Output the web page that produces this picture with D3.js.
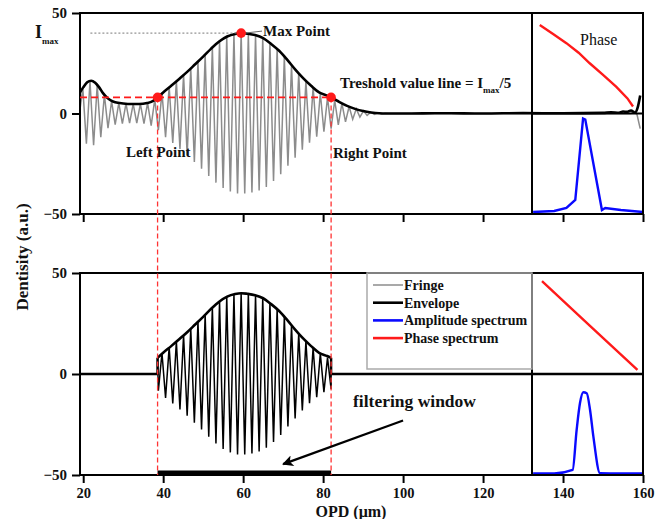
<!DOCTYPE html>
<html><head><meta charset="utf-8">
<script src="https://cdn.jsdelivr.net/npm/d3@7"></script>
<style>
body{margin:0;background:#fff}
svg{display:block}
text{font-family:"Liberation Serif","Times New Roman",serif;font-weight:bold;fill:#111}
</style>
</head><body>
<svg id="c" width="655" height="519"></svg>
<script>
// ---------------- data ----------------
const xTicks = [20, 40, 60, 80, 100, 120, 140, 160];
const yTicks = [-50, 0, 50];

// envelope of the interferogram (OPD, intensity)
const envX = [19.2, 20, 21, 22, 23, 24, 25, 26, 27, 28, 30, 32, 34, 36, 37, 38, 38.6,
  40, 42, 44, 46, 48, 50, 52, 54, 56, 58, 59.5, 61, 63, 65, 67, 69, 71, 73, 75, 77, 79,
  81, 82, 84, 86, 88, 90, 92, 94, 96, 100, 110, 120, 130, 140, 150, 152, 154, 155, 156,
  157, 158, 158.6, 159.3];
const envY = [10.5, 13, 15.5, 16.3, 15.3, 13, 10, 7.8, 6.4, 5.6, 5, 4.7, 4.7, 5.2, 5.8, 7, 8,
  10.5, 13.8, 17.2, 20.7, 24.5, 28.3, 32.3, 35.8, 38.3, 39.6, 40, 39.7, 39, 37.5, 34.6, 31.2, 26.8, 22, 17.6, 13.8, 10.5,
  8.9, 8, 5.8, 3.8, 2.3, 1.2, 0.5, 0.1, 0, 0, 0.1, 0, 0.2, 0.1, 0.3, 0.6, 0.4, 1, 0.8,
  1.5, 0.4, 2.5, 9];

// fringe turning points (OPD, intensity)
const fringeX = [19.2,
  19.9, 20.8, 21.7, 22.6, 23.5, 24.4, 25.3, 26.2, 27.1, 28.0,
  28.9, 29.8, 30.7, 31.6, 32.5, 33.4, 34.3, 35.2, 36.1, 37.0,
  37.9, 38.8, 39.7, 40.6, 41.5, 42.4, 43.3, 44.2, 45.1, 46.0,
  46.9, 47.8, 48.7, 49.6, 50.5, 51.4, 52.3, 53.2, 54.1, 55.0,
  55.9, 56.8, 57.7, 58.6, 59.5, 60.4, 61.3, 62.2, 63.1, 64.0,
  64.9, 65.8, 66.7, 67.6, 68.5, 69.4, 70.3, 71.2, 72.1, 73.0,
  73.9, 74.8, 75.7, 76.6, 77.5, 78.4, 79.3, 80.2, 81.1, 82.0,
  82.9, 83.8, 84.7, 85.6, 86.5, 87.4, 88.3, 89.2, 90.1, 91.0,
  91.9, 92.8, 93.7, 94.6, 95.5, 96.4,
  157.0, 157.8, 158.5, 159.3];
const fringeY = [2,
  12.7, -15, 16.2, -15.8, 14.2, -11.8, 9.3, -7.3, 6.1, -5.5,
  5.2, -5, 4.9, -4.8, 4.8, -4.8, 4.8, -5, 5.3, -6,
  7, -8.3, 10.4, -11.8, 13.3, -14.6, 16.1, -17.6, 19.2, -20.7,
  22.4, -24.1, 25.8, -27.5, 29.3, -31.1, 32.8, -34.4, 35.9, -37.1,
  38.1, -38.8, 39.3, -39.8, 40, -39.8, 39.6, -39.3, 38.9, -38.3,
  37.6, -36.5, 35, -33.6, 32, -30.2, 28.2, -26, 24, -22,
  20, -18, 16.2, -14.5, 13, -11.5, 10.2, -9, 8.1, -7.5,
  6.6, -5.7, 5, -4.2, 3.5, -2.9, 2.3, -1.8, 1.3, -1,
  0.7, -0.5, 0.3, -0.2, 0.1, 0,
  0, 0.8, -0.5, -7.5];

const maxPoint = [59.5, 40];
const leftPoint = [38.6, 8];
const rightPoint = [82, 8];
const thresholdValue = 8;

// inset spectra (arbitrary spectral index 0-100, normalised value 0-100)
const phaseTopX = [7, 19, 31, 42, 52, 64, 76, 86, 91];
const phaseTopY = [88, 79, 70, 60.5, 50, 38.5, 26.5, 15, 7];
const ampTopX = [1, 20, 31, 39, 46, 48, 63, 66, 80, 100];
const ampTopY = [2, 3, 6, 14, 95, 94, 4, 6, 4, 2];
const phaseBotX = [9, 52, 95];
const phaseBotY = [92, 48, 4];
const ampBotX = [1, 20, 36.6, 40.2, 43.2, 46.2, 49.3, 52.3, 55.3, 61.3, 80, 100];
const ampBotY = [1.5, 1.5, 5, 44.5, 71, 81.9, 80.9, 64.4, 38, 1.7, 1.5, 1.5];

const legendLabels = ["Fringe", "Envelope", "Amplitude spectrum", "Phase spectrum"];
const legendColors = ["#8c8c8c", "#000", "#0a0aff", "#ff1a1a"];

// ---------------- layout ----------------
const svg = d3.select("#c");
const L = 80, R = 643, IL = 532;
const topT = 13, topB = 214, botT = 273, botB = 475;

const x = d3.scaleLinear([19.2, 160], [L, R]);
const yTop = d3.scaleLinear([-50, 50], [topB, topT]);
const yBot = d3.scaleLinear([-50, 50], [botB, botT]);
const ix = d3.scaleLinear([0, 100], [IL, R]);
const iyTopU = d3.scaleLinear([0, 100], [yTop(0), topT]);
const iyTopL = d3.scaleLinear([0, 100], [topB, yTop(0)]);
const iyBotU = d3.scaleLinear([0, 100], [yBot(0), botT]);
const iyBotL = d3.scaleLinear([0, 100], [botB, yBot(0)]);

const env = d3.zip(envX, envY);
const fringe = d3.zip(fringeX, fringeY);

const defs = svg.append("defs");
defs.append("clipPath").attr("id", "clipTop").append("rect")
  .attr("x", L).attr("y", topT).attr("width", R - L).attr("height", topB - topT);
defs.append("clipPath").attr("id", "clipBot").append("rect")
  .attr("x", L).attr("y", botT).attr("width", R - L).attr("height", botB - botT);
defs.append("marker").attr("id", "arrow").attr("viewBox", "0 0 10 10")
  .attr("refX", 9).attr("refY", 5).attr("markerWidth", 6).attr("markerHeight", 5)
  .attr("markerUnits", "strokeWidth").attr("orient", "auto")
  .append("path").attr("d", "M0,0 L10,5 L0,10 L2.5,5 Z").attr("fill", "#000");

// ---------------- top panel ----------------
const gTop = svg.append("g").attr("clip-path", "url(#clipTop)");
const lineTop = d3.line().x(d => x(d[0])).y(d => yTop(d[1]));
gTop.append("path").datum(fringe).attr("d", lineTop)
  .attr("fill", "none").attr("stroke", "#8c8c8c").attr("stroke-width", 1.5);
gTop.append("path").datum(env).attr("d", lineTop.curve(d3.curveMonotoneX))
  .attr("fill", "none").attr("stroke", "#000").attr("stroke-width", 2.6);

// insets in top panel
gTop.append("path").datum(d3.zip(phaseTopX, phaseTopY))
  .attr("d", d3.line().x(d => ix(d[0])).y(d => iyTopU(d[1])))
  .attr("fill", "none").attr("stroke", "#ff1a1a").attr("stroke-width", 2.4);
gTop.append("path").datum(d3.zip(ampTopX, ampTopY))
  .attr("d", d3.line().x(d => ix(d[0])).y(d => iyTopL(d[1])))
  .attr("fill", "none").attr("stroke", "#0a0aff").attr("stroke-width", 2.4);

// ---------------- bottom panel ----------------
const win = fringe.filter(d => d[0] >= leftPoint[0] && d[0] <= rightPoint[0]);
const fringeBot = [[19.2, 0], [leftPoint[0], 0], [leftPoint[0], leftPoint[1]], ...win, [rightPoint[0], 0], [160, 0]];
const envWin = env.filter(d => d[0] >= leftPoint[0] && d[0] <= rightPoint[0]);
const envBot = [[19.2, 0], [leftPoint[0], 0], ...envWin, [rightPoint[0], 0], [160, 0]];

const gBot = svg.append("g").attr("clip-path", "url(#clipBot)");
gBot.append("path").datum(fringeBot)
  .attr("d", d3.line().x(d => x(d[0])).y(d => yBot(d[1])))
  .attr("fill", "none").attr("stroke", "#000").attr("stroke-width", 1.5);
gBot.append("path").datum(envWin)
  .attr("d", d3.line().x(d => x(d[0])).y(d => yBot(d[1])).curve(d3.curveMonotoneX))
  .attr("fill", "none").attr("stroke", "#000").attr("stroke-width", 2.6);
gBot.append("path").datum(envBot)
  .attr("d", d3.line().x(d => x(d[0])).y(d => yBot(d[1])).defined(d => d[1] === 0 || d[0] === leftPoint[0] || d[0] === rightPoint[0]))
  .attr("fill", "none").attr("stroke", "#000").attr("stroke-width", 2.4);
gBot.append("path").datum(d3.zip(phaseBotX, phaseBotY))
  .attr("d", d3.line().x(d => ix(d[0])).y(d => iyBotU(d[1])))
  .attr("fill", "none").attr("stroke", "#ff1a1a").attr("stroke-width", 2.4);

// filtering window bar
svg.append("line")
  .attr("x1", x(leftPoint[0])).attr("x2", x(rightPoint[0]))
  .attr("y1", yBot(-49)).attr("y2", yBot(-49))
  .attr("stroke", "#000").attr("stroke-width", 5);

// ---------------- frames & axes ----------------
function frame(t, b) {
  const g = svg.append("g").attr("fill", "none").attr("stroke", "#000").attr("stroke-width", 2);
  g.append("path").attr("d", `M${L},${b} V${t} H${R} V${b} H${L}`);
  g.append("line").attr("x1", IL).attr("x2", IL).attr("y1", t).attr("y2", b);
  const mid = (t + b) / 2;
  g.append("line").attr("x1", IL).attr("x2", R).attr("y1", mid).attr("y2", mid);
}
frame(topT, topB);
frame(botT, botB);

gBot.append("path").datum(d3.zip(ampBotX, ampBotY))
  .attr("d", d3.line().x(d => ix(d[0])).y(d => iyBotL(d[1])).curve(d3.curveMonotoneX))
  .attr("fill", "none").attr("stroke", "#0a0aff").attr("stroke-width", 2.4);

function styleAxis(g) {
  g.select(".domain").remove();
  g.selectAll(".tick line").attr("stroke", "#000").attr("stroke-width", 2);
  g.selectAll(".tick text").attr("fill", "#111").style("font-size", "15px")
    .style("font-family", '"Liberation Serif","Times New Roman",serif').style("font-weight", "bold");
}
svg.append("g").attr("transform", `translate(0,${topB})`)
  .call(d3.axisBottom(x).tickValues(xTicks).tickSize(8).tickFormat(""))
  .call(styleAxis);
const xb = svg.append("g").attr("transform", `translate(0,${botB})`)
  .call(d3.axisBottom(x).tickValues(xTicks).tickSize(8).tickPadding(10))
  .call(styleAxis);
xb.selectAll(".tick text").attr("dy", "0.32em").style("font-size", "14.5px");
svg.append("g").attr("transform", `translate(${L},0)`)
  .call(d3.axisLeft(yTop).tickValues(yTicks).tickSize(8).tickPadding(5))
  .call(styleAxis);
svg.append("g").attr("transform", `translate(${L},0)`)
  .call(d3.axisLeft(yBot).tickValues(yTicks).tickSize(8).tickPadding(5))
  .call(styleAxis);

// ---------------- annotations ----------------
// Imax dotted line
svg.append("line")
  .attr("x1", x(21.8)).attr("x2", x(maxPoint[0]))
  .attr("y1", yTop(maxPoint[1])).attr("y2", yTop(maxPoint[1]))
  .attr("stroke", "#777").attr("stroke-width", 1).attr("stroke-dasharray", "2,2");
// threshold line
svg.append("line")
  .attr("x1", x(19.2)).attr("x2", x(rightPoint[0]))
  .attr("y1", yTop(thresholdValue)).attr("y2", yTop(thresholdValue))
  .attr("stroke", "#ff1a1a").attr("stroke-width", 1.6).attr("stroke-dasharray", "7,4");
// vertical dashed lines
[leftPoint, rightPoint].forEach(p => {
  svg.append("line")
    .attr("x1", x(p[0])).attr("x2", x(p[0]))
    .attr("y1", yTop(p[1])).attr("y2", yBot(-50))
    .attr("stroke", "#ff3333").attr("stroke-width", 1.3).attr("stroke-dasharray", "5,3");
});
// leader for max point
svg.append("line")
  .attr("x1", x(maxPoint[0]) + 4).attr("y1", yTop(maxPoint[1]))
  .attr("x2", 262).attr("y2", yTop(maxPoint[1]) - 2)
  .attr("stroke", "#666").attr("stroke-width", 1);
// points
svg.selectAll("circle.pt").data([maxPoint, leftPoint, rightPoint]).join("circle")
  .attr("class", "pt").attr("cx", d => x(d[0])).attr("cy", d => yTop(d[1])).attr("r", 4.8)
  .attr("fill", "#ff1a1a");

// text labels
const t = (xx, yy, s, size, weight) => svg.append("text").attr("x", xx).attr("y", yy)
  .style("font-size", size + "px").style("font-weight", weight || "bold").text(s);

const imax = svg.append("text").attr("x", 35).attr("y", 38).style("font-size", "18px");
imax.append("tspan").text("I");
imax.append("tspan").attr("dy", 6).style("font-size", "9px").text("max");

t(263, 36, "Max Point", 15);
const thr = svg.append("text").attr("x", 340).attr("y", 88).style("font-size", "15px");
thr.append("tspan").text("Treshold value line = I");
thr.append("tspan").attr("dy", 5).style("font-size", "9px").text("max");
thr.append("tspan").attr("dy", -5).text("/5");
t(126, 157, "Left Point", 15);
t(333, 158, "Right Point", 15);
t(580, 45, "Phase", 16, "normal");
t(353, 407, "filtering window", 17.5);

// arrow
svg.append("line")
  .attr("x1", x(100)).attr("y1", yBot(-23))
  .attr("x2", x(70)).attr("y2", yBot(-44.6))
  .attr("stroke", "#000").attr("stroke-width", 2.2).attr("marker-end", "url(#arrow)");

// legend
const lg = svg.append("g");
lg.append("rect").attr("x", 367).attr("y", botT).attr("width", IL - 367).attr("height", 96)
  .attr("fill", "none").attr("stroke", "#aaa").attr("stroke-width", 1.5);
legendLabels.forEach((lab, i) => {
  const yy = 285 + i * 17.7;
  lg.append("line").attr("x1", 373).attr("x2", 403).attr("y1", yy).attr("y2", yy)
    .attr("stroke", legendColors[i]).attr("stroke-width", i === 0 ? 1.5 : 2.6);
  lg.append("text").attr("x", 404).attr("y", yy + 5).style("font-size", "14px").text(lab);
});

// axis titles
svg.append("text").attr("transform", "translate(28,257) rotate(-90)")
  .attr("text-anchor", "middle").style("font-size", "17px").text("Dentisity (a.u.)");
svg.append("text").attr("x", 351).attr("y", 517)
  .attr("text-anchor", "middle").style("font-size", "16px").text("OPD (μm)");
</script>
</body></html>
